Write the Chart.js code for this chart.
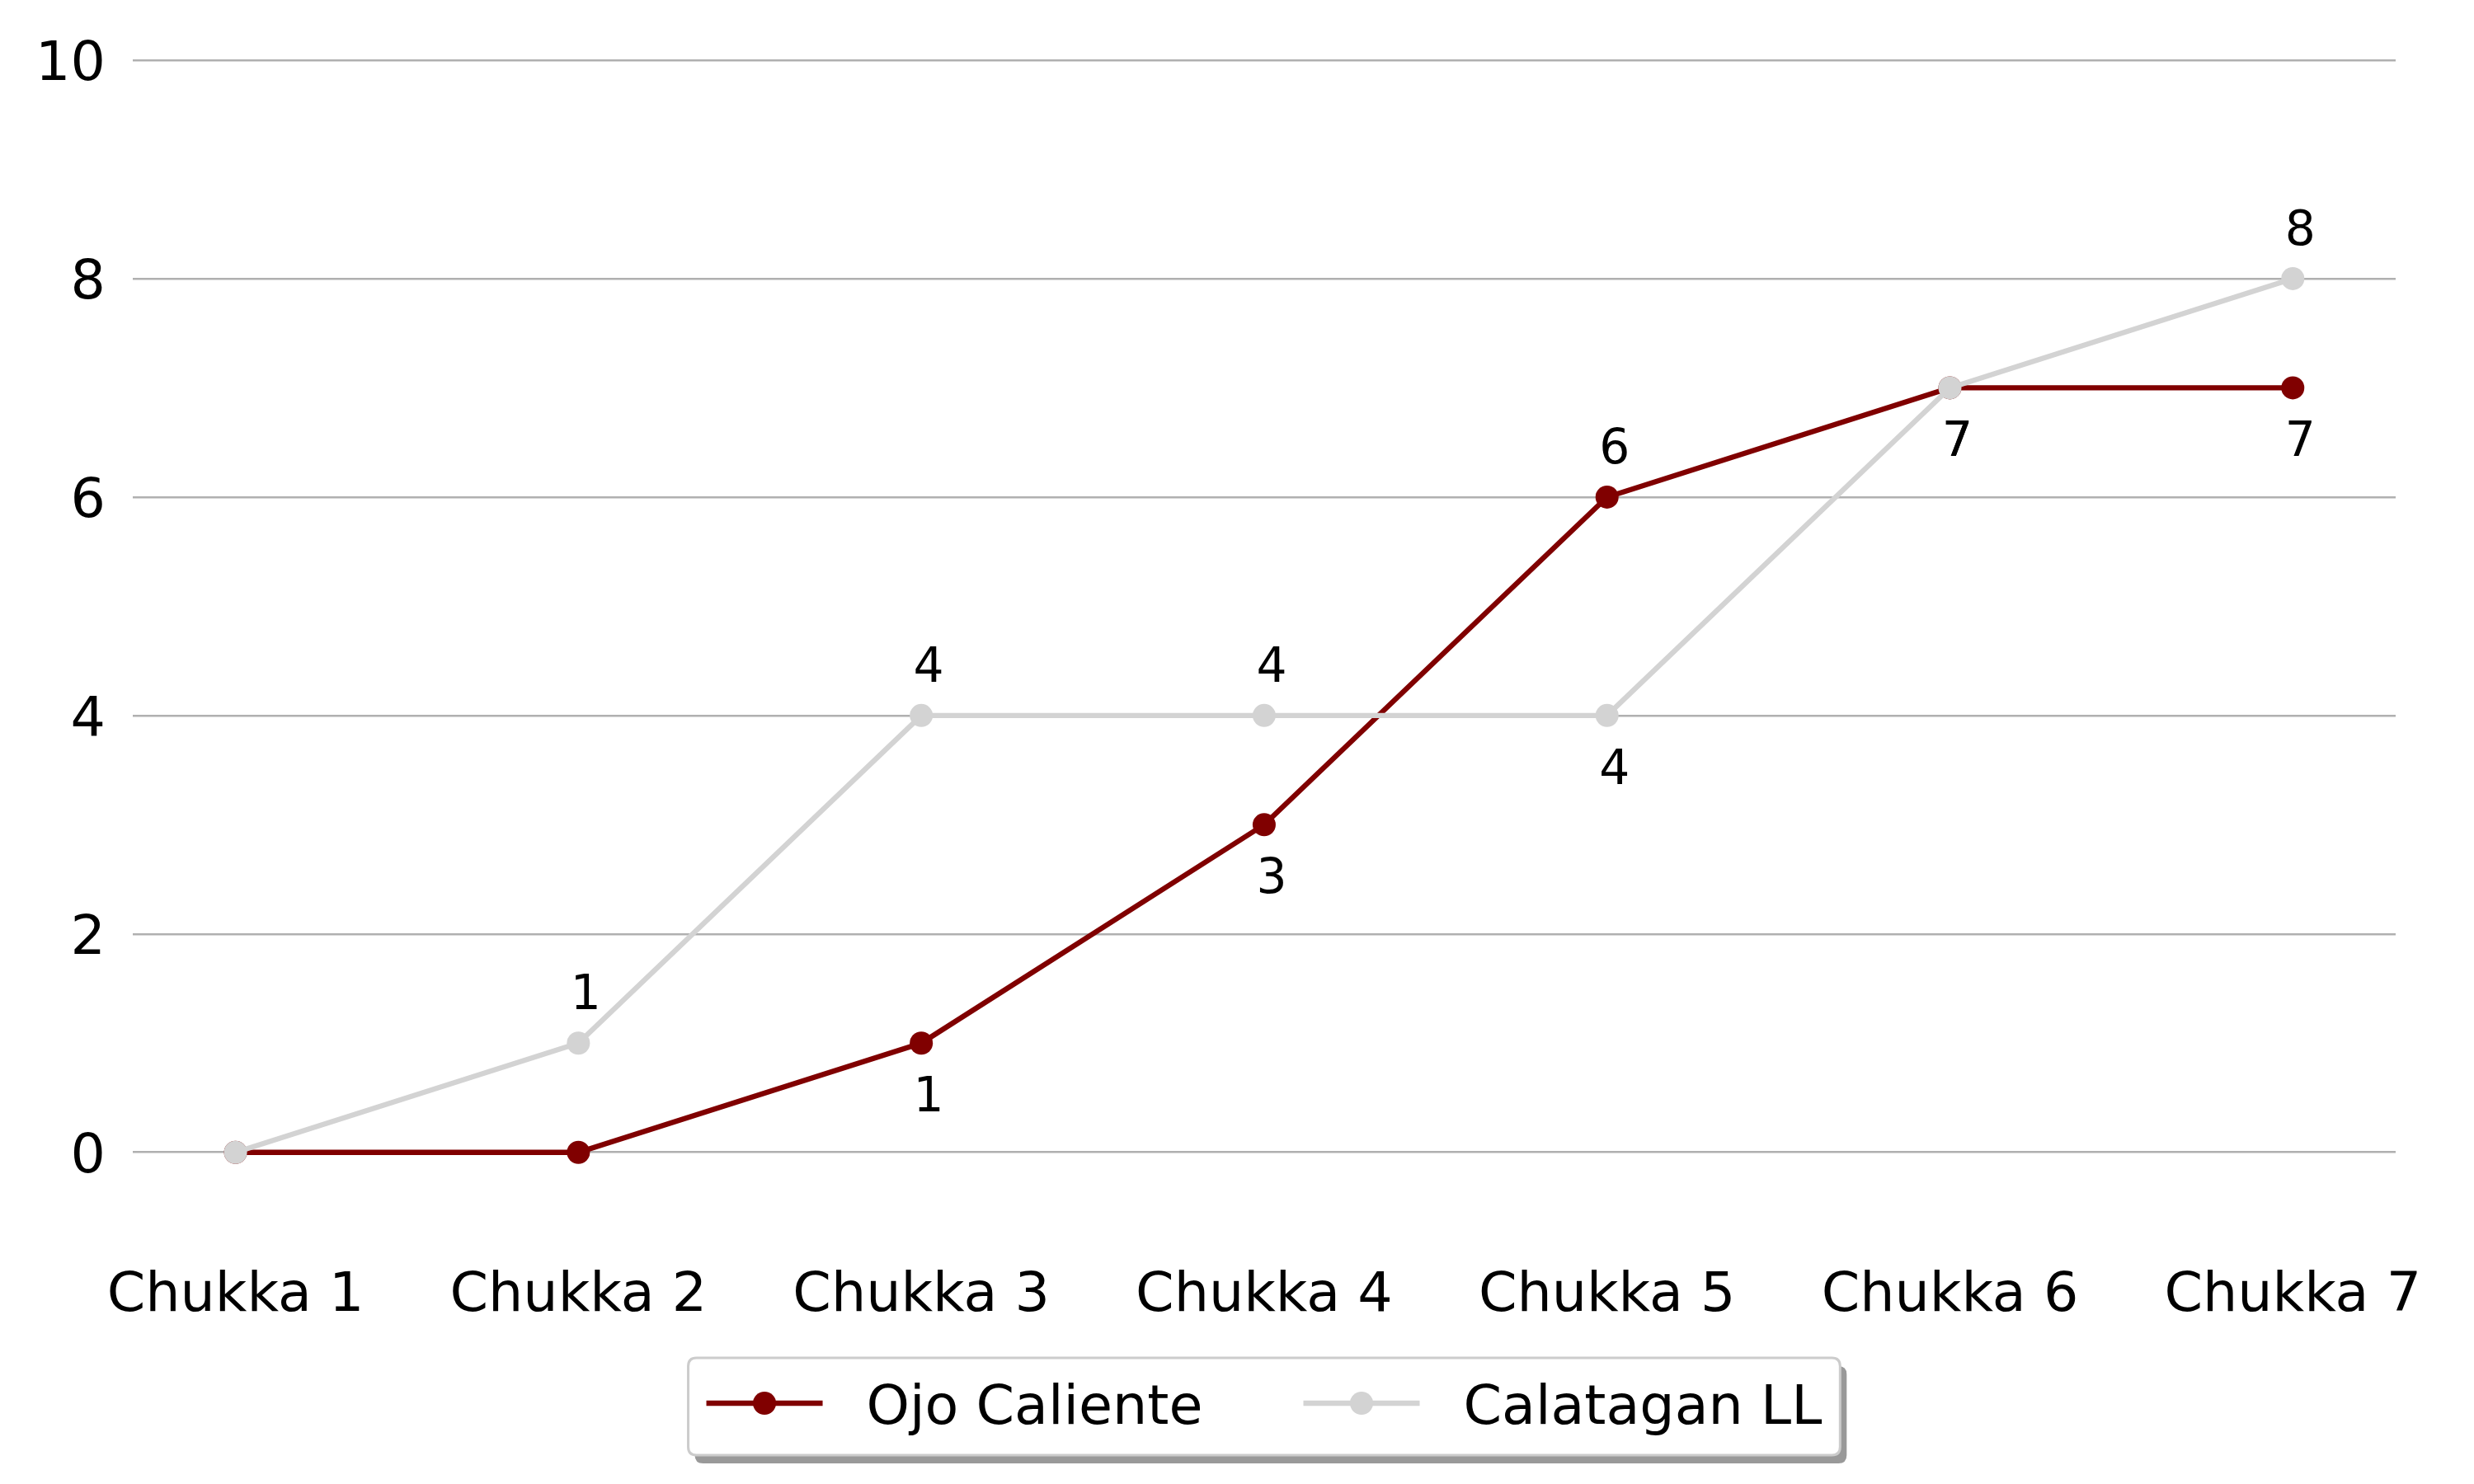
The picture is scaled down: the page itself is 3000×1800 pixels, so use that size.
<!DOCTYPE html>
<html>
<head>
<meta charset="utf-8">
<script src="https://cdn.jsdelivr.net/npm/chart.js@4/dist/chart.umd.min.js"></script>
<style>
  html, body { margin: 0; padding: 0; background: #ffffff; }
  #chart { display: block; }
</style>
</head>
<body>
<canvas id="chart" width="3000" height="1800"></canvas>
<script>
// chart data
const chukkas = ['Chukka 1', 'Chukka 2', 'Chukka 3', 'Chukka 4', 'Chukka 5', 'Chukka 6', 'Chukka 7'];
const ojoCaliente = [0, 0, 1, 3, 6, 7, 7];
const calatagan = [0, 1, 4, 4, 4, 7, 8];
const teamNames = ['Ojo Caliente', 'Calatagan LL'];
const teamColors = ['#800000', '#d3d3d3'];
const yTicks = [0, 2, 4, 6, 8, 10];

const FONT = 'DejaVu Sans';

// score labels: above the point when ahead, below otherwise, none for zero
const scoreLabels = {
    id: 'scoreLabels',
    afterDatasetsDraw(chart) {
        const ctx = chart.ctx;
        const series = [ojoCaliente, calatagan];
        ctx.save();
        ctx.font = '58.3px "' + FONT + '"';
        ctx.fillStyle = '#000000';
        ctx.textAlign = 'center';
        ctx.textBaseline = 'alphabetic';
        series.forEach((vals, i) => {
            const other = series[1 - i];
            const meta = chart.getDatasetMeta(i);
            meta.data.forEach((pt, j) => {
                if (vals[j] === 0) return;
                const above = vals[j] > other[j];
                const cy = above ? pt.y - 62 : pt.y + 62;
                ctx.fillText(String(vals[j]), pt.x + 9, cy + 21);
            });
        });
        ctx.restore();
    }
};

// legend box under the chart, matplotlib style
const boxLegend = {
    id: 'boxLegend',
    afterDraw(chart) {
        const ctx = chart.ctx;
        const area = chart.chartArea;
        ctx.save();
        ctx.font = '66.7px "' + FONT + '"';
        const w = teamNames.map(n => ctx.measureText(n).width);
        const pad = 22, lineLen = 141, textGap = 53, itemGap = 122, padR = 22;
        const boxW = pad + lineLen + textGap + w[0] + itemGap + lineLen + textGap + w[1] + padR;
        const top = 1647, boxH = 118;
        const cx = (area.left + area.right) / 2;
        const left = cx - boxW / 2;

        function rr(x, y, ww, hh, r) {
            ctx.beginPath();
            ctx.moveTo(x + r, y);
            ctx.lineTo(x + ww - r, y);
            ctx.quadraticCurveTo(x + ww, y, x + ww, y + r);
            ctx.lineTo(x + ww, y + hh - r);
            ctx.quadraticCurveTo(x + ww, y + hh, x + ww - r, y + hh);
            ctx.lineTo(x + r, y + hh);
            ctx.quadraticCurveTo(x, y + hh, x, y + hh - r);
            ctx.lineTo(x, y + r);
            ctx.quadraticCurveTo(x, y, x + r, y);
            ctx.closePath();
        }
        // shadow
        rr(left + 8, top + 10, boxW, boxH, 10);
        ctx.fillStyle = '#999999';
        ctx.fill();
        rr(left, top, boxW, boxH, 10);
        ctx.fillStyle = '#ffffff';
        ctx.fill();
        ctx.lineWidth = 3;
        ctx.strokeStyle = '#cccccc';
        ctx.stroke();

        let x = left + pad;
        const lineY = 1702;
        teamNames.forEach((name, i) => {
            ctx.strokeStyle = teamColors[i];
            ctx.lineWidth = 6.3;
            ctx.beginPath();
            ctx.moveTo(x, lineY);
            ctx.lineTo(x + lineLen, lineY);
            ctx.stroke();
            ctx.fillStyle = teamColors[i];
            ctx.beginPath();
            ctx.arc(x + lineLen / 2, lineY, 14, 0, Math.PI * 2);
            ctx.fill();
            x += lineLen + textGap;
            ctx.fillStyle = '#000000';
            ctx.textAlign = 'left';
            ctx.textBaseline = 'alphabetic';
            ctx.fillText(name, x, 1727);
            x += w[i] + itemGap;
        });
        ctx.restore();
    }
};

const ctx = document.getElementById('chart').getContext('2d');
new Chart(ctx, {
    type: 'line',
    data: {
        datasets: [{
            label: teamNames[0],
            data: ojoCaliente.map((v, i) => ({ x: i, y: v })),
            borderColor: teamColors[0],
            backgroundColor: teamColors[0],
            pointBackgroundColor: teamColors[0],
            borderWidth: 6.3,
            pointRadius: 14,
            pointBorderWidth: 0,
            tension: 0,
            order: 1
        }, {
            label: teamNames[1],
            data: calatagan.map((v, i) => ({ x: i, y: v })),
            borderColor: teamColors[1],
            backgroundColor: teamColors[1],
            pointBackgroundColor: teamColors[1],
            borderWidth: 6.3,
            pointRadius: 14,
            pointBorderWidth: 0,
            tension: 0,
            order: 0
        }]
    },
    options: {
        responsive: false,
        animation: false,
        devicePixelRatio: 1,
        layout: {
            padding: { top: 29, left: 10, right: 95, bottom: 171 }
        },
        plugins: {
            legend: { display: false },
            tooltip: { enabled: false }
        },
        scales: {
            x: {
                type: 'linear',
                min: -0.3,
                max: 6.3,
                afterBuildTicks: scale => {
                    scale.ticks = chukkas.map((c, i) => ({ value: i }));
                },
                grid: { display: false, drawTicks: false },
                border: { display: false },
                ticks: {
                    padding: 16,
                    maxRotation: 0,
                    autoSkip: false,
                    color: '#000000',
                    font: { family: FONT, size: 66.7 },
                    callback: v => chukkas[v]
                }
            },
            y: {
                min: -0.9,
                max: 10,
                afterBuildTicks: scale => {
                    scale.ticks = yTicks.map(v => ({ value: v }));
                },
                grid: { color: '#b0b0b0', lineWidth: 2.5, drawTicks: false },
                border: { display: false },
                ticks: {
                    padding: 33,
                    labelOffset: 7,
                    color: '#000000',
                    font: { family: FONT, size: 66.7 }
                }
            }
        }
    },
    plugins: [scoreLabels, boxLegend]
});
</script>
</body>
</html>
